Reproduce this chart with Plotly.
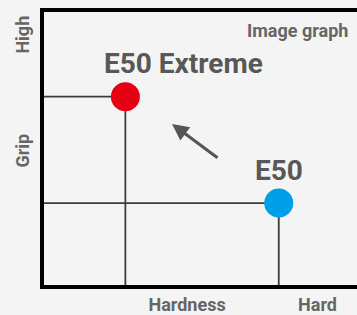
import plotly.graph_objects as go

# Data
products = ["E50 Extreme", "E50"]
hardness = [2.6, 7.5]
grip = [6.9, 3.0]
colors = ["#e60012", "#00a0e9"]

x_tick_vals = [4.57, 8.74]
x_tick_text = ["Hardness", "Hard"]
y_tick_vals = [9.07, 4.82]
y_tick_text = ["High", "Grip"]

W, H = 357, 315
FONT = "Roboto"
BG = "#f4f4f4"
fig = go.Figure()

# connector lines
for hx, gy in zip(hardness, grip):
    fig.add_trace(go.Scatter(x=[0, hx, hx], y=[gy, gy, 0], mode="lines",
                             line=dict(color="#3c3c3c", width=1.8),
                             hoverinfo="skip", showlegend=False))

fig.add_trace(go.Scatter(x=hardness, y=grip, mode="markers",
                         marker=dict(size=29, color=colors, line=dict(width=0)),
                         showlegend=False, cliponaxis=False))

label_xshift = [58, 0]
for name, hx, gy, xs in zip(products, hardness, grip, label_xshift):
    fig.add_annotation(x=hx, y=gy, text="<b>%s</b>" % name, showarrow=False,
                       xshift=xs, yshift=33, font=dict(family=FONT, size=28, color="#585858"))

# arrow
fig.add_annotation(x=4.09, y=5.90, ax=5.59, ay=4.62, axref="x", ayref="y",
                   xref="x", yref="y", text="", showarrow=True,
                   arrowhead=2, arrowsize=1.1, arrowwidth=3, arrowcolor="#555555")

fig.add_annotation(xref="paper", yref="paper", x=1, y=1, xanchor="right", yanchor="top",
                   xshift=-7, yshift=-6, text="<b>Image graph</b>", showarrow=False,
                   font=dict(family=FONT, size=18, color="#666666"))

fig.update_layout(
    width=W, height=H,
    margin=dict(l=44, r=0, t=12, b=30),
    paper_bgcolor=BG, plot_bgcolor=BG,
    xaxis=dict(range=[0, 10], showgrid=False, zeroline=False, automargin=False,
               showline=True, linecolor="#000000", linewidth=4, mirror=True,
               tickvals=x_tick_vals, ticktext=["<b>%s</b>" % t for t in x_tick_text],
               ticks="", ticklabelstandoff=0,
               tickfont=dict(family=FONT, size=18, color="#666666")),
    yaxis=dict(range=[0, 10], showgrid=False, zeroline=False, automargin=False,
               showline=True, linecolor="#000000", linewidth=4,
               tickvals=y_tick_vals, ticktext=["<b>%s</b>" % t for t in y_tick_text],
               ticks="", tickangle=-90, ticklabelstandoff=4,
               tickfont=dict(family=FONT, size=18, color="#666666")),
)

fig.write_html("out.html", config={"displayModeBar": False},
               post_script="document.body.style.margin='0';document.body.style.overflow='hidden';"
                           "document.body.style.background='%s';" % BG)
